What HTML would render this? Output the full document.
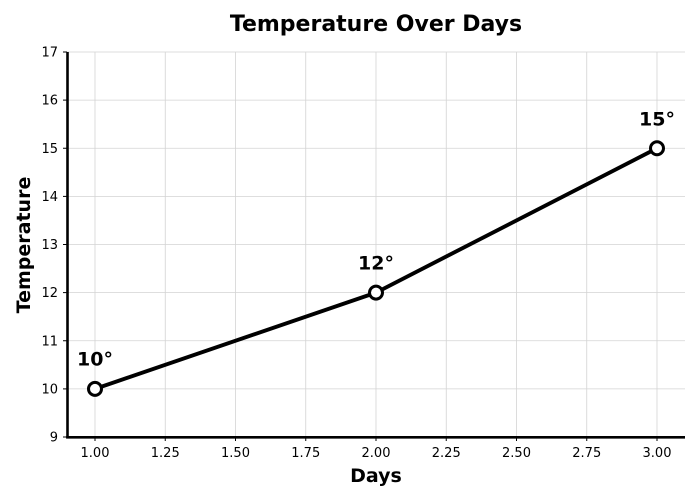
<!DOCTYPE html>
<html><head><meta charset="utf-8"><style>
html,body{margin:0;padding:0;background:#fff;}
svg{display:block;font-family:"DejaVu Sans","Liberation Sans",sans-serif;}
</style></head><body>
<svg width="700" height="500" viewBox="0 0 700 500" xmlns="http://www.w3.org/2000/svg">
<rect width="700" height="500" fill="#fff"/>
<g stroke="#d3d3d3" stroke-width="0.8">
<line x1="95" y1="52" x2="95" y2="437"/>
<line x1="165.25" y1="52" x2="165.25" y2="437"/>
<line x1="235.5" y1="52" x2="235.5" y2="437"/>
<line x1="305.75" y1="52" x2="305.75" y2="437"/>
<line x1="376" y1="52" x2="376" y2="437"/>
<line x1="446.25" y1="52" x2="446.25" y2="437"/>
<line x1="516.5" y1="52" x2="516.5" y2="437"/>
<line x1="586.75" y1="52" x2="586.75" y2="437"/>
<line x1="657" y1="52" x2="657" y2="437"/>
<line x1="67" y1="52" x2="685" y2="52"/>
<line x1="67" y1="100.1" x2="685" y2="100.1"/>
<line x1="67" y1="148.25" x2="685" y2="148.25"/>
<line x1="67" y1="196.4" x2="685" y2="196.4"/>
<line x1="67" y1="244.5" x2="685" y2="244.5"/>
<line x1="67" y1="292.6" x2="685" y2="292.6"/>
<line x1="67" y1="340.75" x2="685" y2="340.75"/>
<line x1="67" y1="388.9" x2="685" y2="388.9"/>
</g>
<g stroke="#000" stroke-width="1">
<line x1="63" y1="52" x2="67" y2="52"/>
<line x1="63" y1="100.1" x2="67" y2="100.1"/>
<line x1="63" y1="148.25" x2="67" y2="148.25"/>
<line x1="63" y1="196.4" x2="67" y2="196.4"/>
<line x1="63" y1="244.5" x2="67" y2="244.5"/>
<line x1="63" y1="292.6" x2="67" y2="292.6"/>
<line x1="63" y1="340.75" x2="67" y2="340.75"/>
<line x1="63" y1="388.9" x2="67" y2="388.9"/>
<line x1="63" y1="437" x2="67" y2="437"/>
<line x1="95" y1="437" x2="95" y2="441"/>
<line x1="165.25" y1="437" x2="165.25" y2="441"/>
<line x1="235.5" y1="437" x2="235.5" y2="441"/>
<line x1="305.75" y1="437" x2="305.75" y2="441"/>
<line x1="376" y1="437" x2="376" y2="441"/>
<line x1="446.25" y1="437" x2="446.25" y2="441"/>
<line x1="516.5" y1="437" x2="516.5" y2="441"/>
<line x1="586.75" y1="437" x2="586.75" y2="441"/>
<line x1="657" y1="437" x2="657" y2="441"/>
</g>
<line x1="67.5" y1="52" x2="67.5" y2="438.5" stroke="#000" stroke-width="2.6"/>
<line x1="66.2" y1="437.3" x2="685" y2="437.3" stroke="#000" stroke-width="2.6"/>
<g font-size="13" fill="#000" text-anchor="end">
<text x="58" y="56.5">17</text>
<text x="58" y="104.6">16</text>
<text x="58" y="152.75">15</text>
<text x="58" y="200.9">14</text>
<text x="58" y="249">13</text>
<text x="58" y="297.1">12</text>
<text x="58" y="345.25">11</text>
<text x="58" y="393.4">10</text>
<text x="58" y="441.5">9</text>
</g>
<g font-size="13" fill="#000" text-anchor="middle">
<text x="95" y="457">1.00</text>
<text x="165.25" y="457">1.25</text>
<text x="235.5" y="457">1.50</text>
<text x="305.75" y="457">1.75</text>
<text x="376" y="457">2.00</text>
<text x="446.25" y="457">2.25</text>
<text x="516.5" y="457">2.50</text>
<text x="586.75" y="457">2.75</text>
<text x="657" y="457">3.00</text>
</g>
<polyline points="95,388.9 376,292.6 657,148.25" fill="none" stroke="#000" stroke-width="3.9" stroke-linejoin="round"/>
<g fill="#fff" stroke="#000" stroke-width="3">
<circle cx="95" cy="388.9" r="6.5"/>
<circle cx="376" cy="292.6" r="6.5"/>
<circle cx="657" cy="148.25" r="6.5"/>
</g>
<g font-size="19" font-weight="bold" fill="#000" text-anchor="middle">
<text x="95" y="365.5">10°</text>
<text x="376" y="269.5">12°</text>
<text x="657" y="125.5">15°</text>
</g>
<text x="376" y="31" font-size="22" font-weight="bold" text-anchor="middle">Temperature Over Days</text>
<text x="376" y="482" font-size="19" font-weight="bold" text-anchor="middle">Days</text>
<text transform="translate(30,245) rotate(-90)" font-size="19" font-weight="bold" text-anchor="middle">Temperature</text>
</svg>
</body></html>
